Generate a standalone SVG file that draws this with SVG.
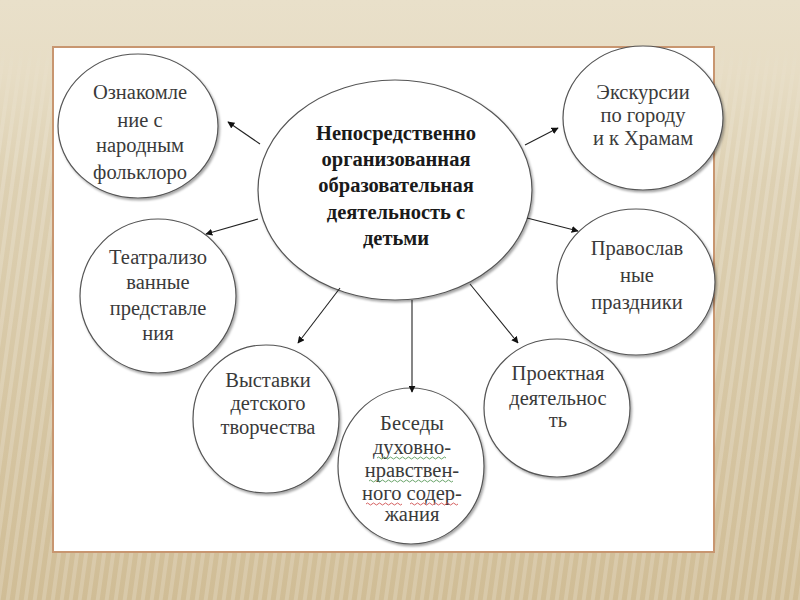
<svg xmlns="http://www.w3.org/2000/svg" width="800" height="600" viewBox="0 0 800 600">
<defs>
<linearGradient id="bg" x1="0" y1="0" x2="0" y2="1">
<stop offset="0" stop-color="#e9e0ca"/>
<stop offset="0.12" stop-color="#e7ddc5"/>
<stop offset="0.3" stop-color="#ddd0b2"/>
<stop offset="1" stop-color="#d0bd96"/>
</linearGradient>
<pattern id="stripes" width="9" height="10" patternUnits="userSpaceOnUse" patternTransform="skewX(-8)">
<rect width="4" height="10" fill="#ffffff" opacity="0.18"/>
</pattern>
<linearGradient id="fade" x1="0" y1="0" x2="0" y2="1">
<stop offset="0" stop-color="#fff" stop-opacity="0"/>
<stop offset="0.2" stop-color="#fff" stop-opacity="1"/>
<stop offset="1" stop-color="#fff" stop-opacity="1"/>
</linearGradient>
<mask id="m"><rect x="0" y="40" width="800" height="560" fill="url(#fade)"/></mask>
<marker id="ah" viewBox="0 0 10 10" refX="9" refY="5" markerWidth="7" markerHeight="7" orient="auto" markerUnits="userSpaceOnUse">
<path d="M0,0 L10,5 L0,10 z" fill="#111"/>
</marker>
<filter id="sh" x="-10%" y="-10%" width="125%" height="125%">
<feDropShadow dx="1.5" dy="2" stdDeviation="1.2" flood-color="#000" flood-opacity="0.35"/>
</filter>
</defs>
<style>
.n{fill:#fff;stroke:#555;stroke-width:1.2;filter:url(#sh)}
.t{font-family:"Liberation Serif","Times New Roman",serif;font-size:20.5px;fill:#3a3a3a;text-anchor:middle}
.b{font-family:"Liberation Serif","Times New Roman",serif;font-size:20.5px;font-weight:bold;fill:#1a1a1a;text-anchor:middle}
.c line{stroke:#222;stroke-width:1.1;marker-end:url(#ah)}
.sq{fill:none;stroke-width:0.9}
</style>
<rect width="800" height="600" fill="url(#bg)"/>
<rect width="800" height="600" fill="url(#stripes)" mask="url(#m)"/>
<rect x="53" y="47" width="661" height="505" fill="#fff" stroke="#c89670" stroke-width="2"/>

<g id="center">
<ellipse class="n" cx="395" cy="190" rx="137" ry="110"/>
<text class="b" x="396" y="140">Непосредственно</text>
<text class="b" x="396" y="166">организованная</text>
<text class="b" x="396" y="192">образовательная</text>
<text class="b" x="396" y="219">деятельность  с</text>
<text class="b" x="396" y="245">детьми</text>
</g>

<g id="n1">
<ellipse class="n" cx="138" cy="126" rx="80" ry="72"/>
<text class="t" x="140" y="99">Ознакомле</text>
<text class="t" x="140" y="127">ние с</text>
<text class="t" x="140" y="152">народным</text>
<text class="t" x="140" y="179">фольклоро</text>
</g>

<g id="n2">
<ellipse class="n" cx="643" cy="118" rx="80" ry="72"/>
<text class="t" x="643" y="99">Экскурсии</text>
<text class="t" x="643" y="122">по городу</text>
<text class="t" x="643" y="145">и к Храмам</text>
</g>

<g id="n3">
<ellipse class="n" cx="158" cy="296" rx="78" ry="77"/>
<text class="t" x="158" y="264">Театрализо</text>
<text class="t" x="158" y="289">ванные</text>
<text class="t" x="158" y="315">представле</text>
<text class="t" x="158" y="340">ния</text>
</g>

<g id="n4">
<ellipse class="n" cx="636" cy="282" rx="79" ry="73"/>
<text class="t" x="637" y="255">Православ</text>
<text class="t" x="637" y="282">ные</text>
<text class="t" x="637" y="309">праздники</text>
</g>

<g id="n5">
<ellipse class="n" cx="266" cy="419" rx="73" ry="74"/>
<text class="t" x="268" y="387">Выставки</text>
<text class="t" x="268" y="410">детского</text>
<text class="t" x="268" y="434">творчества</text>
</g>

<g id="n6">
<ellipse class="n" cx="411" cy="466" rx="73" ry="78"/>
<text class="t" x="412" y="430">Беседы</text>
<text class="t" x="412" y="454">духовно-</text>
<text class="t" x="412" y="477">нравствен-</text>
<text class="t" x="412" y="500">ного содер-</text>
<text class="t" x="412" y="521">жания</text>
<path class="sq" stroke="#5a9a5a" d="M377,458 q1.5,-2 3,0 t3,0 t3,0 t3,0 t3,0 t3,0 t3,0 t3,0 t3,0 t3,0 t3,0 t3,0 t3,0 t3,0 t3,0 t3,0 t3,0 t3,0 t3,0 t3,0 t3,0 t3,0 t3,0"/>
<path class="sq" stroke="#5a9a5a" d="M369,481 q1.5,-2 3,0 t3,0 t3,0 t3,0 t3,0 t3,0 t3,0 t3,0 t3,0 t3,0 t3,0 t3,0 t3,0 t3,0 t3,0 t3,0 t3,0 t3,0 t3,0 t3,0 t3,0 t3,0 t3,0 t3,0 t3,0 t3,0 t3,0 t3,0"/>
<path class="sq" stroke="#d05050" d="M366,504 q1.5,-2 3,0 t3,0 t3,0 t3,0 t3,0 t3,0 t3,0 t3,0 t3,0 t3,0 t3,0 t3,0"/>
<path class="sq" stroke="#d05050" d="M410,504 q1.5,-2 3,0 t3,0 t3,0 t3,0 t3,0 t3,0 t3,0 t3,0 t3,0 t3,0 t3,0 t3,0 t3,0 t3,0 t3,0 t3,0"/>
</g>

<g id="n7">
<ellipse class="n" cx="557" cy="408" rx="73" ry="69"/>
<text class="t" x="558" y="380">Проектная</text>
<text class="t" x="558" y="405">деятельнос</text>
<text class="t" x="558" y="427">ть</text>
</g>

<g class="c" id="connectors">
<line x1="260" y1="144" x2="228" y2="122"/>
<line x1="258" y1="219" x2="206" y2="234"/>
<line x1="525" y1="145" x2="558" y2="128"/>
<line x1="527" y1="218" x2="578" y2="231"/>
<line x1="340" y1="288" x2="298" y2="343"/>
<line x1="412" y1="300" x2="412" y2="392"/>
<line x1="470" y1="284" x2="518" y2="343"/>
</g>
</svg>
